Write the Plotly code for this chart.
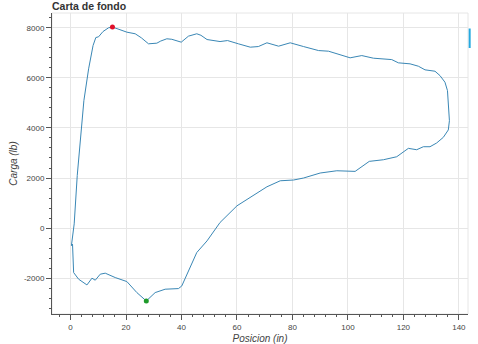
import plotly.graph_objects as go

# Dynamometer card: position (in) vs load (lb), traced clockwise
posicion = [0.3, 0.6, 1.3, 2.4, 3.8, 4.8, 6.5, 8.1, 9.1, 10.1, 11.7, 13.7, 15.1, 17.3, 20.3,
            23.3, 25.5, 28.1, 31.1, 32.5, 34.7, 36.5, 37.7, 39.9, 42.5, 45.5, 47.0, 49.2, 53.9,
            56.6, 60.5, 64.8, 67.7, 70.8, 75.0, 79.2, 84.0, 86.5, 89.4, 93.0, 97.0, 100.8, 105.0,
            109.2, 115.8, 118.2, 122.4, 125.4, 127.8, 131.4, 133.2, 135.0, 135.9, 136.4, 136.6,
            136.2, 134.4, 132.0, 129.6, 127.2, 124.8, 121.8, 117.6, 112.8, 107.7, 102.6, 96.0,
            90.0, 84.0, 80.4, 75.6, 70.8, 64.8, 60.0, 53.9, 49.2, 45.5, 42.5, 40.1, 38.9, 34.1,
            30.5, 27.3, 23.9, 20.3, 16.1, 12.5, 10.7, 8.9, 7.7, 5.9, 2.9, 1.1, 0.7, 0.3]
carga = [-700, -400, 170, 2100, 4000, 5090, 6360, 7290, 7610, 7640, 7850, 8000, 8030, 7930, 7825,
         7760, 7600, 7360, 7385, 7470, 7560, 7540, 7490, 7425, 7665, 7760, 7700, 7530, 7450,
         7490, 7360, 7225, 7250, 7400, 7265, 7400, 7250, 7170, 7090, 7065, 6930, 6800, 6890,
         6785, 6730, 6600, 6560, 6465, 6320, 6265, 6090, 5825, 5490, 4800, 4290,
         3920, 3625, 3400, 3250, 3250, 3130, 3185, 2850, 2730, 2665, 2265, 2290,
         2200, 2000, 1920, 1890, 1650, 1225, 890, 225, -510, -975, -1680, -2310, -2415, -2440,
         -2575, -2910, -2575, -2135, -1975, -1800, -1840, -2080, -2000, -2270, -2040, -1775, -640, -700]

max_pos = [15.1]
max_carga = [8030]
min_pos = [27.3]
min_carga = [-2910]

x_ticks = [0, 20, 40, 60, 80, 100, 120, 140]
y_ticks = [-2000, 0, 2000, 4000, 6000, 8000]

W, H = 478, 344
ml, mr, mt, mb = 52, 10, 13, 30

fig = go.Figure()
fig.add_trace(go.Scatter(x=posicion, y=carga, mode="lines",
                         line=dict(color="#3a87b5", width=1), showlegend=False))
fig.add_trace(go.Scatter(x=max_pos, y=max_carga, mode="markers",
                         marker=dict(color="#e0102a", size=5), showlegend=False))
fig.add_trace(go.Scatter(x=min_pos, y=min_carga, mode="markers",
                         marker=dict(color="#1e9a2a", size=5), showlegend=False))

tickfont = dict(family="Liberation Sans, Arial, sans-serif", size=8, color="#444444")
titlefont = dict(family="Liberation Sans, Arial, sans-serif", size=10, color="#444444", style="italic")

fig.update_layout(
    width=W, height=H,
    margin=dict(l=ml, r=mr, t=mt, b=mb, autoexpand=False),
    paper_bgcolor="white", plot_bgcolor="white",
    title=dict(text="<b>Carta de fondo</b>", x=ml / W, xanchor="left", xref="container",
               y=1 - 6 / H, yanchor="middle", automargin=False,
               font=dict(family="Liberation Sans, Arial, sans-serif", size=10.5, color="#333333")),
    xaxis=dict(range=[-6.7, 143.3], tickvals=x_ticks, ticktext=[str(v) for v in x_ticks],
               automargin=False,
               showgrid=True, gridcolor="#e6e6e6", gridwidth=1, zeroline=False,
               showline=True, linecolor="#555555", linewidth=1,
               ticks="outside", ticklen=5, tickcolor="#555555", tickfont=tickfont,
               minor=dict(dtick=4, tick0=0, ticks="outside", ticklen=2, tickcolor="#555555", showgrid=False),
               title=dict(text="Posicion (in)", font=titlefont, standoff=4)),
    yaxis=dict(range=[-3430, 8590], tickvals=y_ticks, ticktext=[str(v) for v in y_ticks],
               automargin=False,
               showgrid=True, gridcolor="#e6e6e6", gridwidth=1, zeroline=False,
               showline=True, linecolor="#555555", linewidth=1,
               ticks="outside", ticklen=5, tickcolor="#555555", tickfont=tickfont,
               minor=dict(dtick=400, tick0=0, ticks="outside", ticklen=2, tickcolor="#555555", showgrid=False),
               title=dict(text="Carga (lb)", font=titlefont, standoff=4)),
    shapes=[
        dict(type="rect", xref="paper", yref="paper", x0=0, x1=1, y0=0, y1=1,
             line=dict(color="#e6e6e6", width=1), layer="below"),
        dict(type="line", xref="paper", yref="paper", x0=1.004, x1=1.004,
             y0=1 - (28.5 - mt) / (H - mt - mb), y1=1 - (48 - mt) / (H - mt - mb),
             line=dict(color="#26a9e0", width=2)),
    ],
)

fig.write_html("out.html", config={"displayModeBar": False},
               post_script="document.body.style.margin='0px';document.body.style.overflow='hidden';")
